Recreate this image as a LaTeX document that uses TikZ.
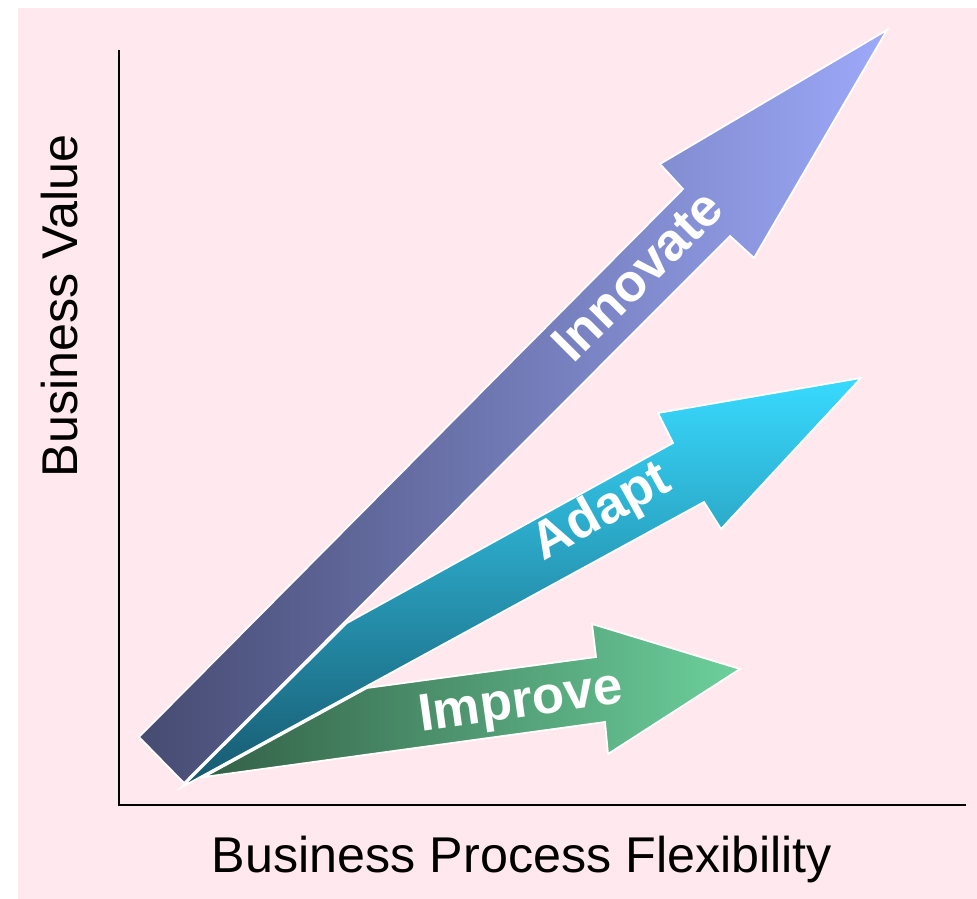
\documentclass[tikz,border=0pt]{standalone}
\usepackage{fontspec}
\setmainfont{Liberation Sans}
\definecolor{bgpink}{HTML}{FFE9EE}
\definecolor{innodark}{HTML}{464B71}
\definecolor{innolight}{HTML}{9DA9FA}
\definecolor{adaptdark}{HTML}{17586E}
\definecolor{adaptlight}{HTML}{38DAFF}
\definecolor{impdark}{HTML}{336047}
\definecolor{implight}{HTML}{6CD09C}

\begin{document}
\begin{tikzpicture}[
  arrowshape/.style={draw=white, line width=0.5pt, line join=miter},
  arrowlabel/.style={text=white, inner sep=0pt, font=\bfseries\fontsize{15pt}{18pt}\selectfont},
  axislabel/.style={inner sep=0pt, font=\fontsize{14.3pt}{17pt}\selectfont}]
\useasboundingbox (0,0) rectangle (9.77,8.99);
% background
  \fill[bgpink] (0.18,0) rectangle (9.77,8.91);

% axes
  \coordinate (origin) at (1.19,0.94);
  \coordinate (ytop) at (1.19,8.49);
  \coordinate (xend) at (9.66,0.94);
  \draw[line width=0.6pt] (ytop) -- (origin) -- (xend);

% Adapt arrow
  \draw[arrowshape, top color=adaptlight, bottom color=adaptdark]
    (1.82,1.12) -- (3.47,2.76) -- (6.73,4.56) -- (6.58,4.86) -- (8.61,5.21)
    -- (7.21,3.70) -- (7.04,3.97) -- cycle;

% Improve arrow
  \draw[arrowshape, left color=impdark, right color=implight]
    (2.04,1.22) -- (3.67,2.11) -- (5.96,2.42) -- (5.92,2.75) -- (7.40,2.30)
    -- (6.08,1.45) -- (6.05,1.77) -- cycle;

% Innovate arrow
  \draw[arrowshape, left color=innodark, right color=innolight]
    (1.39,1.62) -- (1.84,1.16) -- (7.30,6.63) -- (7.54,6.41) -- (8.87,8.69)
    -- (6.60,7.35) -- (6.83,7.10) -- cycle;

% labels
  \node[arrowlabel, rotate=45, anchor=base] (innovate) at (6.50,6.11) {Innovate};
  \node[arrowlabel, rotate=29, anchor=base] (adapt) at (6.09,3.74) {Adapt};
  \node[arrowlabel, rotate=8, anchor=base] (improve) at (5.23,1.82) {Improve};

  \node[axislabel, rotate=90] (yvalue) at (0.60,5.93) {Business Value};
  \node[axislabel, anchor=base] (xflex) at (5.22,0.26) {Business Process Flexibility};
\end{tikzpicture}
\end{document}
